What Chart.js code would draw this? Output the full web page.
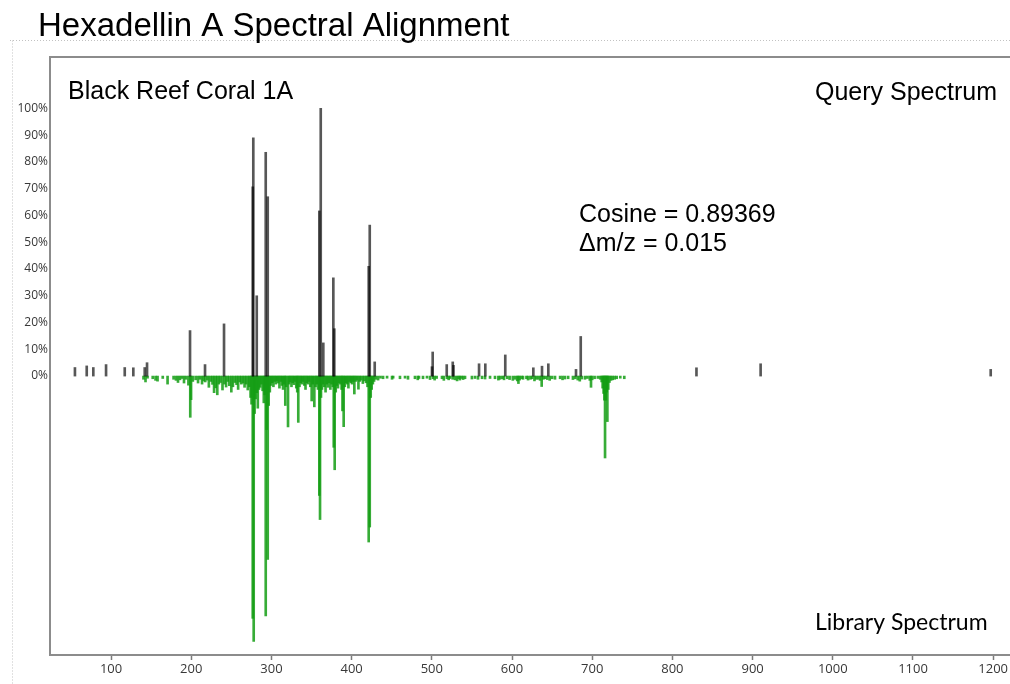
<!DOCTYPE html>
<html>
<head>
<meta charset="utf-8">
<title>Hexadellin A Spectral Alignment</title>
<script src="https://cdn.jsdelivr.net/npm/chart.js@4.4.1/dist/chart.umd.min.js"></script>
<style>
  html, body { margin: 0; padding: 0; overflow: hidden; background: #fff; }
  #wrap { position: relative; width: 1010px; height: 684px; overflow: hidden; }
  canvas { display: block; }
</style>
</head>
<body>
<div id="wrap"><canvas id="spectrum" width="1030" height="684"></canvas></div>
<script>
// Query spectrum peaks (m/z, relative intensity %)
const queryMz = [55.0, 69.7, 77.9, 93.8, 117.1, 127.8, 142.0, 144.9, 198.5, 217.2, 240.9,
  276.7, 277.4, 281.7, 292.9, 295.4, 359.7, 361.5, 364.7, 377.2, 378.4, 421.3, 422.6, 428.8,
  500.2, 501.1, 518.6, 526.1, 527.0, 558.9, 566.7, 591.6, 626.6, 637.4, 645.3, 679.8, 685.7,
  830.0, 910.0, 1196.9];
const queryIntensity = [3.2, 3.8, 3.2, 4.3, 3.2, 3.1, 3.2, 5.0, 17.0, 4.3, 19.5,
  70.7, 89.0, 30.0, 83.6, 67.0, 61.7, 100.0, 12.4, 36.7, 17.7, 41.0, 56.4, 5.3,
  3.5, 9.0, 4.3, 5.3, 4.0, 4.6, 4.6, 7.9, 3.1, 3.7, 4.6, 2.5, 14.8,
  3.1, 4.6, 2.5];

// Library spectrum peaks [m/z, mirrored intensity %]
const libraryPeaks = [
  [140.5, -1.2], [143.0, -2.2], [145.5, -0.8], [152.0, -1.0], [155.5, -1.6], [158.0, -1.9],
  [164.5, -0.9], [170.5, -3.0], [178.0, -1.2], [181.0, -1.6], [183.5, -2.4], [186.0, -1.4],
  [188.5, -0.9], [191.0, -2.6], [193.5, -1.2], [196.5, -3.4], [198.8, -15.4], [199.8, -8.8],
  [202.0, -2.0], [205.5, -1.4], [208.5, -2.6], [211.0, -1.2], [213.5, -3.0], [215.5, -1.8],
  [217.5, -2.2], [220.0, -1.5], [222.0, -4.2], [224.5, -2.0], [226.5, -3.1], [228.5, -6.2],
  [230.5, -4.4], [232.5, -7.0], [234.5, -3.0], [236.5, -2.4], [239.0, -5.2], [241.5, -3.0],
  [243.5, -4.1], [245.5, -2.0], [247.5, -3.6], [250.0, -6.0], [252.0, -4.0], [254.5, -2.4],
  [256.5, -3.2], [258.5, -5.0], [260.5, -2.2], [262.5, -3.0], [264.5, -2.6], [266.5, -4.2],
  [268.5, -3.0], [270.5, -5.2], [272.5, -4.0], [274.0, -8.0], [275.2, -10.5],
  [276.7, -90.5], [277.9, -99.1], [279.0, -14.0], [280.3, -8.5], [281.7, -6.2], [283.0, -12.0],
  [284.5, -5.0], [286.0, -4.2], [287.5, -3.0], [289.0, -5.5], [290.5, -10.0], [291.6, -7.0],
  [292.9, -89.6], [294.0, -20.0], [295.4, -68.5], [296.6, -11.0], [298.0, -6.0], [299.5, -3.5],
  [301.0, -2.5], [302.5, -4.0], [304.0, -2.0], [305.5, -3.0], [307.0, -1.8], [308.5, -2.6],
  [310.0, -4.5], [311.5, -2.0], [313.0, -3.5], [314.5, -5.0], [316.0, -3.0], [317.3, -11.0],
  [318.5, -4.0], [320.7, -19.0], [322.0, -3.0], [323.5, -2.2], [325.0, -4.0], [326.5, -2.5],
  [328.0, -3.2], [329.5, -2.0], [331.0, -4.5], [332.2, -6.0], [333.5, -17.3], [335.0, -4.0],
  [336.5, -2.5], [338.0, -3.0], [339.5, -2.0], [341.0, -3.5], [342.5, -5.0], [344.0, -2.5],
  [345.5, -3.0], [347.0, -2.0], [348.5, -4.0], [350.2, -9.3], [351.5, -3.0], [353.5, -11.5],
  [355.0, -4.0], [356.5, -3.0], [358.0, -5.0],
  [359.7, -44.6], [360.6, -53.6], [361.8, -8.0], [363.0, -5.0], [364.5, -3.0], [366.0, -4.0],
  [367.5, -6.0], [369.0, -3.0], [370.5, -4.2], [372.0, -2.5], [373.5, -5.0], [375.0, -3.0],
  [376.5, -4.0], [377.7, -26.6], [378.9, -35.0], [380.2, -6.0], [381.5, -3.5], [383.0, -4.5],
  [384.5, -2.5], [386.0, -3.0], [387.5, -5.0], [388.6, -13.0], [390.1, -18.9], [391.5, -4.0],
  [393.0, -2.5], [394.5, -3.0], [396.0, -4.5], [397.5, -2.0], [399.0, -2.5], [400.5, -3.0],
  [402.0, -2.0], [403.4, -6.7], [405.0, -2.0], [406.5, -1.5], [408.5, -4.9], [410.0, -2.0],
  [412.0, -1.5], [414.0, -2.8], [416.0, -1.8], [418.0, -2.5], [419.8, -4.0],
  [421.3, -62.0], [422.6, -56.4], [423.8, -8.0], [425.0, -5.0], [426.5, -3.0], [428.0, -2.0],
  [430.0, -1.2], [433.0, -1.5], [436.0, -0.8],
  [439.2, -1.0], [444.2, -0.8], [450.4, -1.2], [451.8, -0.8], [460.3, -1.0], [466.6, -0.8],
  [470.3, -1.2], [479.0, -1.0], [482.5, -1.4], [484.0, -0.9], [489.0, -1.0], [494.0, -0.8],
  [497.8, -1.3], [501.5, -1.0], [503.5, -1.5], [506.0, -0.9], [512.7, -1.0], [515.0, -1.6],
  [518.9, -1.0], [521.0, -1.4], [522.7, -0.9], [526.0, -1.2], [529.0, -1.4], [531.5, -1.8],
  [533.5, -1.0], [535.0, -1.5], [537.0, -0.9], [539.0, -1.3], [541.4, -1.0], [550.0, -1.1],
  [553.9, -0.9], [557.6, -1.2], [562.6, -1.0], [566.4, -1.1], [572.6, -0.9], [578.8, -1.0],
  [583.0, -1.5], [585.0, -1.2], [588.0, -1.0], [590.0, -1.4], [594.0, -1.0], [597.0, -1.3],
  [601.0, -1.6], [604.0, -1.2], [606.5, -1.8], [608.0, -2.8], [609.5, -1.5], [612.0, -1.0],
  [613.7, -1.2], [618.0, -1.0], [620.0, -1.5], [623.0, -1.2], [625.0, -1.0], [628.0, -1.8],
  [630.0, -1.2], [632.5, -1.2], [635.0, -1.6], [637.0, -3.9], [639.0, -1.2], [641.0, -1.0],
  [644.0, -1.3], [647.0, -1.6], [650.0, -1.0], [653.6, -1.2], [660.0, -1.0], [663.0, -1.4],
  [666.0, -1.1], [670.0, -1.0], [676.0, -1.3], [679.0, -1.0], [682.0, -1.5], [684.5, -1.9],
  [687.0, -1.1], [691.0, -1.2], [694.0, -0.9], [697.0, -1.6], [698.5, -4.2], [700.0, -1.4],
  [703.0, -1.0], [707.0, -0.9],
  [710.0, -1.2], [711.8, -2.2], [713.0, -4.5], [714.2, -6.5], [715.2, -9.0], [716.0, -30.6],
  [717.0, -9.0], [718.0, -6.0], [718.9, -17.0], [720.0, -5.0], [721.5, -2.4], [723.5, -1.6],
  [725.5, -1.4], [728.0, -1.2], [730.5, -1.0], [735.0, -0.8], [740.0, -1.0]
];

const xTicks = [100, 200, 300, 400, 500, 600, 700, 800, 900, 1000, 1100, 1200];
const yTicks = [0, 10, 20, 30, 40, 50, 60, 70, 80, 90, 100];

const titleText = 'Hexadellin A Spectral Alignment';
const sampleName = 'Black Reef Coral 1A';
const queryLabel = 'Query Spectrum';
const libraryLabel = 'Library Spectrum';
const cosineScore = '0.89369';
const mzTolerance = '0.015';

const axisColor = '#8c8c8c';
const sansFont = '"Liberation Sans", Arial, sans-serif';
const tickFont = '"Open Sans", "Noto Sans", sans-serif';

// Frame, title and text annotations around the mirror plot
const spectrumDecor = {
  id: 'spectrumDecor',
  beforeDraw(chart) {
    const { ctx } = chart;
    ctx.save();
    ctx.strokeStyle = '#c2c2c2';
    ctx.lineWidth = 1;
    ctx.setLineDash([1, 2]);
    ctx.beginPath();
    ctx.moveTo(10, 40.5);
    ctx.lineTo(chart.width, 40.5);
    ctx.moveTo(12.5, 40.5);
    ctx.lineTo(12.5, chart.height);
    ctx.stroke();
    ctx.restore();
  },
  afterDraw(chart) {
    const { ctx, chartArea: a } = chart;
    ctx.save();
    ctx.strokeStyle = axisColor;
    ctx.lineWidth = 2;
    ctx.beginPath();
    ctx.moveTo(a.left - 1, a.top);
    ctx.lineTo(a.right, a.top);
    ctx.stroke();

    ctx.fillStyle = '#000';
    ctx.textAlign = 'left';
    ctx.textBaseline = 'alphabetic';
    ctx.font = '33px ' + sansFont;
    ctx.fillText(titleText, 38, 36);

    ctx.font = '25px ' + sansFont;
    ctx.fillText(sampleName, 68, 99);
    ctx.fillText(queryLabel, 815, 100);
    ctx.fillText('Cosine = ' + cosineScore, 579, 222);
    ctx.fillText('\u0394m/z = ' + mzTolerance, 579, 251);

    ctx.font = '23px Lato, "Open Sans", sans-serif';
    ctx.fillText(libraryLabel, 815, 630);
    ctx.restore();
  }
};

new Chart(document.getElementById('spectrum'), {
  type: 'bar',
  data: {
    datasets: [
      {
        label: queryLabel,
        data: queryMz.map((x, i) => ({ x: x, y: queryIntensity[i] })),
        backgroundColor: 'rgba(0,0,0,0.66)',
        barThickness: 2,
        grouped: false
      },
      {
        label: libraryLabel,
        data: libraryPeaks.map(([x, y]) => ({ x: x, y: y })),
        backgroundColor: 'rgba(20,158,20,0.85)',
        barThickness: 2,
        grouped: false
      }
    ]
  },
  options: {
    responsive: false,
    animation: false,
    events: [],
    layout: { padding: { top: 57, left: 0, right: 0, bottom: 0 } },
    plugins: {
      legend: { display: false },
      tooltip: { enabled: false },
      title: { display: false }
    },
    scales: {
      x: {
        type: 'linear',
        min: 23.9,
        max: 1245.9,
        offset: false,
        afterBuildTicks: (s) => { s.ticks = xTicks.map((v) => ({ value: v })); },
        afterFit: (s) => { s.height = 29; },
        grid: {
          display: true,
          offset: false,
          drawOnChartArea: false,
          drawTicks: true,
          tickLength: 5,
          tickWidth: 1.5,
          tickColor: '#7a7a7a'
        },
        border: { display: true, color: axisColor, width: 2 },
        ticks: {
          padding: 1,
          color: '#383838',
          autoSkip: false,
          maxRotation: 0,
          font: { family: tickFont, size: 13 },
          callback: (v) => String(v)
        }
      },
      y: {
        min: -104.2,
        max: 119.2,
        afterBuildTicks: (s) => { s.ticks = yTicks.map((v) => ({ value: v })); },
        afterFit: (s) => { s.width = 50; },
        grid: { display: false, drawTicks: false },
        border: { display: true, color: axisColor, width: 2 },
        ticks: {
          padding: 2,
          color: '#383838',
          font: { family: tickFont, size: 12 },
          callback: (v) => v + '%'
        }
      }
    }
  },
  plugins: [spectrumDecor]
});
</script>
</body>
</html>
